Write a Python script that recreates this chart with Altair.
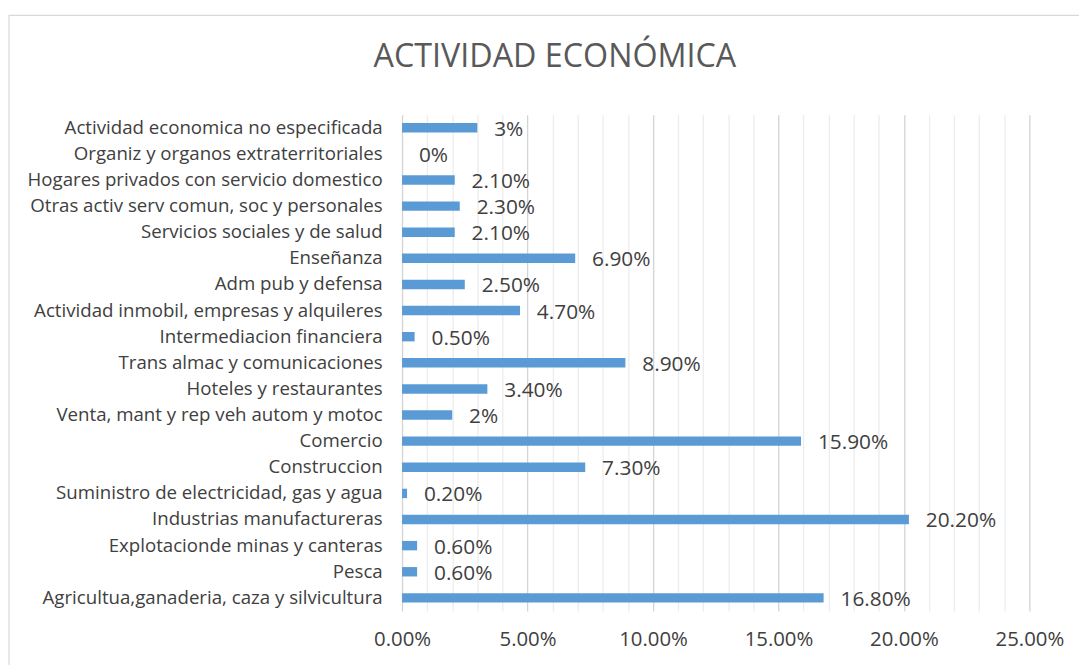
import altair as alt
import pandas as pd

categories = [
    "Actividad economica no especificada",
    "Organiz y organos extraterritoriales",
    "Hogares privados con servicio domestico",
    "Otras activ serv comun, soc  y personales",
    "Servicios sociales y de salud",
    "Enseñanza",
    "Adm pub y defensa",
    "Actividad inmobil, empresas y alquileres",
    "Intermediacion financiera",
    "Trans almac y comunicaciones",
    "Hoteles y restaurantes",
    "Venta, mant y rep veh autom y motoc",
    "Comercio",
    "Construccion",
    "Suministro de electricidad, gas y agua",
    "Industrias manufactureras",
    "Explotacionde minas y canteras",
    "Pesca",
    "Agricultua,ganaderia, caza y silvicultura",
]
values = [3, 0, 2.1, 2.3, 2.1, 6.9, 2.5, 4.7, 0.5, 8.9, 3.4, 2, 15.9, 7.3, 0.2, 20.2, 0.6, 0.6, 16.8]
labels = ["3%", "0%", "2.10%", "2.30%", "2.10%", "6.90%", "2.50%", "4.70%", "0.50%", "8.90%",
          "3.40%", "2%", "15.90%", "7.30%", "0.20%", "20.20%", "0.60%", "0.60%", "16.80%"]
grid_values = list(range(0, 26))

df = pd.DataFrame({"cat": categories, "val": values, "lab": labels})

FONT = "Open Sans"
TXT = "#404040"

y_enc = alt.Y("cat:N", sort=categories, title=None,
              scale=alt.Scale(paddingInner=0.64, paddingOuter=0.32),
              axis=alt.Axis(domain=False, ticks=False, labelPadding=20, labelFontSize=18.8,
                            labelFont=FONT, labelColor=TXT, labelLimit=400))
x_enc = alt.X("val:Q", title=None, scale=alt.Scale(domain=[0, 25], nice=False),
              axis=alt.Axis(values=grid_values, tickCount=40, domain=False, ticks=False,
                            labelOverlap=False, labelFlush=False,
                            labelExpr="datum.value % 5 === 0 ? format(datum.value / 100, '.2%') : ''",
                            labelFontSize=20.5, labelFont=FONT, labelColor=TXT, labelPadding=19,
                            gridColor=alt.condition("datum.value % 5 === 0", alt.value("#d4d4d4"), alt.value("#ececec")),
                            gridWidth=1.3))

bars = alt.Chart(df).mark_bar(color="#5B9BD5").encode(x=x_enc, y=y_enc)

text = alt.Chart(df).mark_text(align="left", baseline="middle", dx=17, dy=2,
                               fontSize=21, font=FONT, color=TXT).encode(
    x="val:Q", y=alt.Y("cat:N", sort=categories), text="lab:N")

frame = alt.Chart(alt.Data(values=[{"a": 1}])).mark_rect(
    fill=None, stroke="#d9d9d9", strokeWidth=1.2, clip=False).encode(
    x=alt.value(-396), x2=alt.value(720), y=alt.value(-100), y2=alt.value(580))

chart = alt.layer(frame, bars, text).properties(
    width=632, height=500,
    autosize=alt.AutoSizeParams(type="none"),
    padding={"left": 397, "top": 105, "right": 50, "bottom": 52},
    title=alt.Title("ACTIVIDAD ECONÓMICA", fontSize=32.5, font=FONT, fontWeight="normal",
                    color="#595959", anchor="middle", dx=-162, offset=-85, baseline="alphabetic",
                    frame="group"),
).configure_view(stroke=None)

chart.save("out.html", embed_options={"renderer": "svg", "actions": False})
